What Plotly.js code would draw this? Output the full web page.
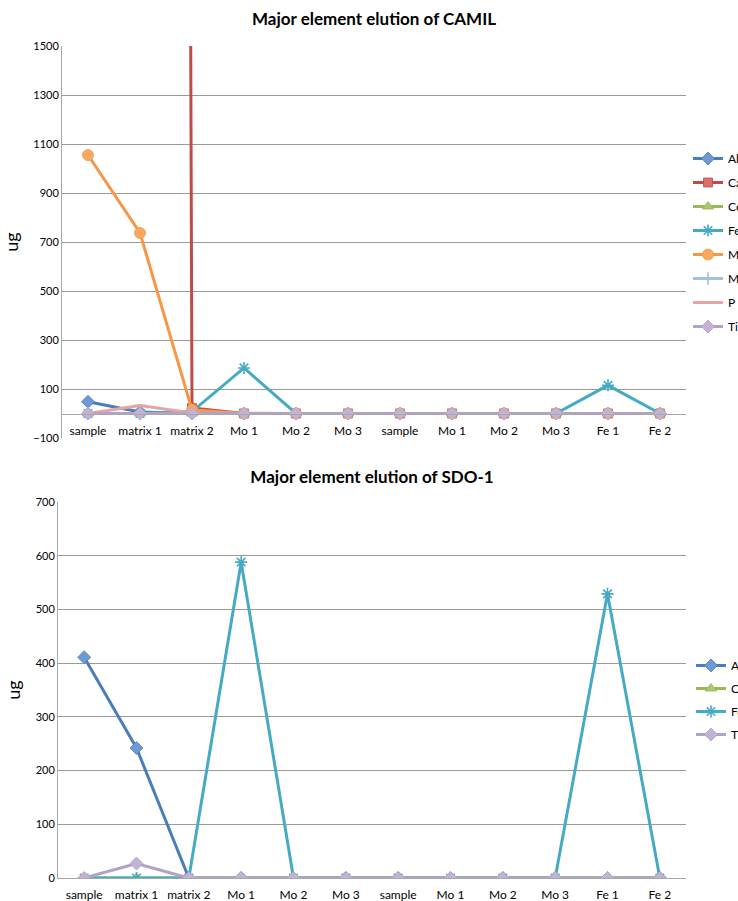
<!DOCTYPE html>
<html>
<head>
<meta charset="utf-8">
<script src="https://cdn.plot.ly/plotly-3.0.1.min.js"></script>
<style>
  html, body { margin: 0; padding: 0; background: #ffffff; }
  #camil, #sdo { width: 738px; }
  #camil { height: 450px; }
  #sdo { height: 451px; }
</style>
</head>
<body>
<div id="camil"></div>
<div id="sdo"></div>
<script>
// Elution fractions (same order for both samples)
const fractions = ['sample', 'matrix 1', 'matrix 2', 'Mo 1', 'Mo 2', 'Mo 3',
                   'sample', 'Mo 1', 'Mo 2', 'Mo 3', 'Fe 1', 'Fe 2'];

// CAMIL — element mass per fraction (ug)
const camilAl = [48, 6, 0, 0, 0, 0, 0, 0, 0, 0, 0, 0];
const camilCa = [45000, 60000, 22, 0, 0, 0, 0, 0, 0, 0, 0, 0];
const camilCo = [0, 0, 0, 0, 0, 0, 0, 0, 0, 0, 0, 0];
const camilFe = [0, 0, 8, 186, 0, 0, 0, 0, 0, 0, 115, 0];
const camilMn = [1055, 737, 15, 0, 0, 0, 0, 0, 0, 0, 0, 0];
const camilMo = [0, 0, 0, 0, 0, 0, 0, 0, 0, 0, 0, 0];
const camilP  = [0, 33, 2, 0, 0, 0, 0, 0, 0, 0, 0, 0];
const camilTi = [0, 0, 0, 0, 0, 0, 0, 0, 0, 0, 0, 0];

// SDO-1 — element mass per fraction (ug)
const sdoAl = [411, 242, 0, 0, 0, 0, 0, 0, 0, 0, 0, 0];
const sdoCo = [0, 0, 0, 0, 0, 0, 0, 0, 0, 0, 0, 0];
const sdoFe = [0, 0, 0, 588, 0, 0, 0, 0, 0, 0, 529, 0];
const sdoTi = [0, 27, 0, 0, 0, 0, 0, 0, 0, 0, 0, 0];

const FONT = 'Lato, "Open Sans", "DejaVu Sans", sans-serif';
const xIdx = fractions.map((_, i) => i);

// series look per element
const looks = {
  Al: { color: '#4A7EBB', symbol: 'diamond', fill: '#6E99D2', size: 10 },
  Ca: { color: '#BE4B48', symbol: 'square', fill: '#D9706C', size: 9 },
  Co: { color: '#98B954', symbol: 'triangle-up', fill: '#A9C96A', size: 10 },
  Fe: { color: '#46AAC5', symbol: 'asterisk-open', fill: '#46AAC5', size: 10 },
  Mn: { color: '#F79646', symbol: 'circle', fill: '#F9A860', size: 11 },
  Mo: { color: '#A5BFE0', symbol: 'line-ns-open', fill: '#A5BFE0', size: 9 },
  P:  { color: '#E6A5A3', symbol: 'line-ew-open', fill: '#E6A5A3', size: 8 },
  Ti: { color: '#B3A2C7', symbol: 'diamond', fill: '#C2B3D6', size: 10 }
};

function series(name, values) {
  const lk = looks[name];
  const open = lk.symbol.endsWith('-open');
  return {
    type: 'scatter',
    mode: 'lines+markers',
    name: name,
    legendgroup: name,
    x: xIdx,
    y: values,
    line: { color: lk.color, width: 3 },
    marker: {
      symbol: lk.symbol,
      size: lk.size,
      color: lk.fill,
      line: { color: lk.color, width: open ? 1.6 : 0.8 }
    },
    hoverinfo: 'skip'
  };
}

function baseLayout(opts) {
  return {
    width: 738,
    height: opts.height,
    margin: Object.assign({ autoexpand: false }, opts.margin),
    paper_bgcolor: '#ffffff',
    plot_bgcolor: '#ffffff',
    font: { family: FONT, size: 11, color: '#000000' },
    showlegend: true,
    title: {
      text: opts.title,
      font: { family: FONT, size: 17, color: '#000000', weight: 'bold' },
      xref: 'paper', x: 0.5, xanchor: 'center',
      yref: 'container', y: opts.titleY, yanchor: 'middle'
    },
    xaxis: Object.assign({
      range: [-0.5, 11.5],
      tickmode: 'array',
      tickvals: xIdx,
      ticktext: fractions,
      showgrid: false,
      zeroline: false,
      ticks: '',
      ticklabelstandoff: 6,
      tickfont: { family: FONT, size: 12, color: '#000000' },
      fixedrange: true
    }, opts.xaxis),
    yaxis: Object.assign({
      showgrid: true,
      gridcolor: '#9A9A9A',
      gridwidth: 1,
      zeroline: false,
      showline: true,
      linecolor: '#A8A8A8',
      linewidth: 1,
      ticks: '',
      tickfont: { family: FONT, size: 11, color: '#000000' },
      title: { text: 'ug', font: { family: FONT, size: 18, color: '#000000' }, standoff: 10 },
      fixedrange: true
    }, opts.yaxis),
    legend: Object.assign({
      font: { family: FONT, size: 12, color: '#000000' },
      bgcolor: 'rgba(0,0,0,0)',
      borderwidth: 0,
      xanchor: 'left',
      yanchor: 'top',
      traceorder: 'grouped',
      itemclick: false,
      itemdoubleclick: false
    }, opts.legend)
  };
}

// Chart 1: CAMIL
const camilTraces = [
  series('Al', camilAl),
  series('Ca', camilCa),
  series('Co', camilCo),
  series('Fe', camilFe),
  series('Mn', camilMn),
  series('Mo', camilMo),
  series('P',  camilP),
  series('Ti', camilTi)
];
const camilLayout = baseLayout({
  height: 450,
  margin: { l: 62, r: 52, t: 46, b: 12 },
  title: 'Major element elution of CAMIL',
  titleY: 1 - 19 / 450,
  xaxis: { anchor: 'free', position: 100 / 1600, showline: true, linecolor: '#A8A8A8' },
  yaxis: { range: [-100, 1500], tick0: -100, dtick: 200 },
  legend: { x: (688 - 62) / 624, y: (438 - 144) / 392, tracegroupgap: 5 }
});

// Chart 2: SDO-1
const sdoTraces = [
  series('Al', sdoAl),
  series('Co', sdoCo),
  series('Fe', sdoFe),
  series('Ti', sdoTi)
];
const sdoLayout = baseLayout({
  height: 451,
  margin: { l: 58, r: 52, t: 52, b: 23 },
  title: 'Major element elution of SDO-1',
  titleY: 1 - 27 / 451,
  xaxis: { showline: true, linecolor: '#A8A8A8' },
  yaxis: { range: [0, 700], tick0: 0, dtick: 100 },
  legend: { x: (691 - 58) / 628, y: (428 - 201) / 376, tracegroupgap: 4 }
});

const config = { displayModeBar: false, staticPlot: true, responsive: false };
Plotly.newPlot('camil', camilTraces, camilLayout, config);
Plotly.newPlot('sdo', sdoTraces, sdoLayout, config);
</script>
</body>
</html>
